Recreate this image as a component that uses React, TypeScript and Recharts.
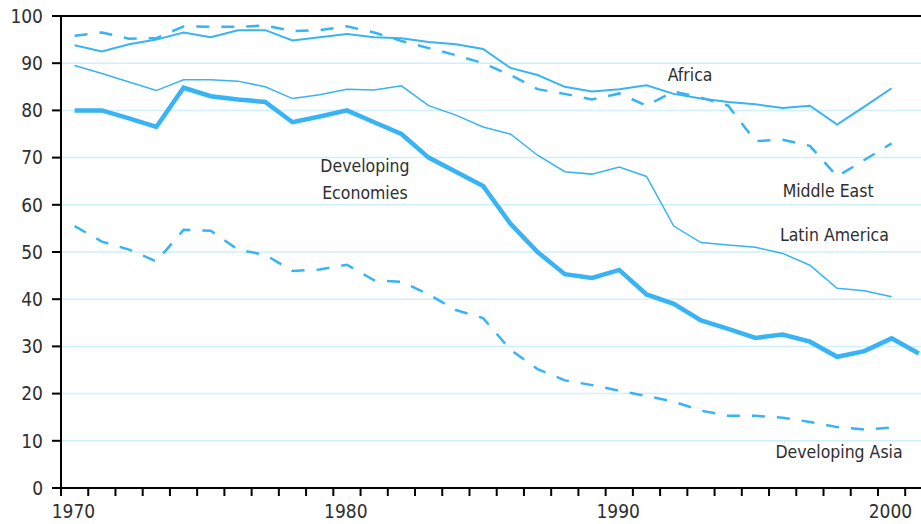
import React from "react";
import {
  LineChart,
  Line,
  XAxis,
  YAxis,
  CartesianGrid,
  ReferenceLine,
  ReferenceDot,
} from "recharts";

const years = [
  1970, 1971, 1972, 1973, 1974, 1975, 1976, 1977, 1978, 1979, 1980, 1981, 1982,
  1983, 1984, 1985, 1986, 1987, 1988, 1989, 1990, 1991, 1992, 1993, 1994, 1995,
  1996, 1997, 1998, 1999, 2000, 2001,
];

const africa = [
  93.8, 92.5, 94, 95, 96.5, 95.5, 97, 97, 94.8, 95.5, 96.2, 95.5, 95.3, 94.5, 94,
  93, 89, 87.5, 85, 84, 84.5, 85.3, 83.5, 82.5, 81.8, 81.3, 80.5, 81, 77, 80.8,
  84.7,
];

const middleEast = [
  95.8, 96.5, 95.2, 95.3, 97.8, 97.7, 97.7, 98, 96.8, 97, 97.8, 96.5, 94.7, 93.2,
  91.7, 90, 87.5, 84.5, 83.5, 82.3, 83.6, 81, 84, 82.7, 81, 73.5, 73.8, 72.5, 66,
  69.5, 73,
];

const latinAmerica = [
  89.5, 87.8, 86, 84.2, 86.5, 86.5, 86.2, 85, 82.5, 83.3, 84.5, 84.3, 85.2, 81,
  79, 76.5, 75, 70.5, 67, 66.5, 68, 66, 55.5, 52, 51.5, 51, 49.7, 47.2, 42.3,
  41.8, 40.5,
];

const developingEconomies = [
  80, 80, 78.3, 76.5, 84.8, 83, 82.3, 81.8, 77.5, 78.7, 80, 77.5, 75, 70, 67, 64,
  56, 50, 45.3, 44.5, 46.2, 41, 39, 35.5, 33.7, 31.8, 32.5, 31, 27.8, 29, 31.7,
  28.5,
];

const developingAsia = [
  55.5, 52.2, 50.5, 48, 54.7, 54.5, 50.5, 49.4, 46, 46.3, 47.3, 44, 43.7, 41,
  37.7, 36, 29.3, 25.2, 22.8, 21.8, 20.6, 19.5, 18.3, 16.4, 15.3, 15.3, 14.9, 14,
  12.9, 12.4, 12.8,
];

const yTicks = [0, 10, 20, 30, 40, 50, 60, 70, 80, 90, 100];

// series labels placed in data space
const annotations = [
  { text: "Africa", x: 1992.6, y: 87.5 },
  { text: "Middle East", x: 1997.67, y: 62.9 },
  { text: "Latin America", x: 1997.9, y: 53.6 },
  { text: "Developing Asia", x: 1998.07, y: 7.6 },
  { text: "Developing", x: 1980.66, y: 68.2 },
  { text: "Economies", x: 1980.66, y: 62.5 },
];

const data = years.map((year, i) => ({
  year,
  africa: africa[i],
  middleEast: middleEast[i],
  latinAmerica: latinAmerica[i],
  developingEconomies: developingEconomies[i],
  developingAsia: developingAsia[i],
}));

// tick marks sit between years, labels centred on the year
const xTicks = years.map((y) => y - 0.5);

const BLUE = "#38b3f3";
const FONT = "'DejaVu Sans Condensed', 'Liberation Sans Narrow', sans-serif";
const TEXT = "#2e2e2e";

const App = () => {
  return (
    <div style={{ width: 921, height: 524 }}>
      <style>{"body{margin:0}"}</style>
      <LineChart
        width={921}
        height={524}
        data={data}
        margin={{ top: 16, right: 0, left: 0, bottom: 6 }}
      >
        <CartesianGrid horizontal vertical={false} stroke="#d0effc" strokeWidth={1.5} />
        <XAxis
          type="number"
          dataKey="year"
          domain={[1969.5, 2001.08]}
          allowDataOverflow
          ticks={xTicks}
          interval={0}
          height={30}
          tickSize={8}
          tickMargin={9}
          axisLine={{ stroke: "#000", strokeWidth: 2 }}
          tickLine={{ stroke: "#000", strokeWidth: 2 }}
          tick={{ fill: TEXT, fontSize: 19, fontFamily: FONT, dx: 12.5 }}
          tickFormatter={(v: number) =>
            (v + 0.5) % 10 === 0 ? String(v + 0.5) : ""
          }
        />
        <YAxis
          domain={[0, 100]}
          ticks={yTicks}
          interval={0}
          width={61}
          tickSize={9}
          tickMargin={9}
          axisLine={{ stroke: "#000", strokeWidth: 2 }}
          tickLine={{ stroke: "#000", strokeWidth: 2 }}
          tick={{ fill: TEXT, fontSize: 19, fontFamily: FONT }}
        />
        <ReferenceLine y={100} stroke="#000" strokeWidth={2} />
        <Line
          dataKey="africa"
          stroke={BLUE}
          strokeWidth={2}
          dot={false}
          activeDot={false}
          isAnimationActive={false}
        />
        <Line
          dataKey="middleEast"
          stroke={BLUE}
          strokeWidth={2.5}
          strokeDasharray="13 12"
          dot={false}
          activeDot={false}
          isAnimationActive={false}
        />
        <Line
          dataKey="latinAmerica"
          stroke={BLUE}
          strokeWidth={1.5}
          dot={false}
          activeDot={false}
          isAnimationActive={false}
        />
        <Line
          dataKey="developingEconomies"
          stroke={BLUE}
          strokeWidth={4.5}
          dot={false}
          activeDot={false}
          isAnimationActive={false}
        />
        <Line
          dataKey="developingAsia"
          stroke={BLUE}
          strokeWidth={2.5}
          strokeDasharray="13 12"
          dot={false}
          activeDot={false}
          isAnimationActive={false}
        />
        {annotations.map((a) => (
          <ReferenceDot
            key={a.text}
            x={a.x}
            y={a.y}
            r={0}
            stroke="none"
            fill="none"
            label={{
              value: a.text,
              position: "center",
              fill: TEXT,
              fontSize: 17.5,
              fontFamily: FONT,
            }}
          />
        ))}
      </LineChart>
    </div>
  );
};

export default App;
